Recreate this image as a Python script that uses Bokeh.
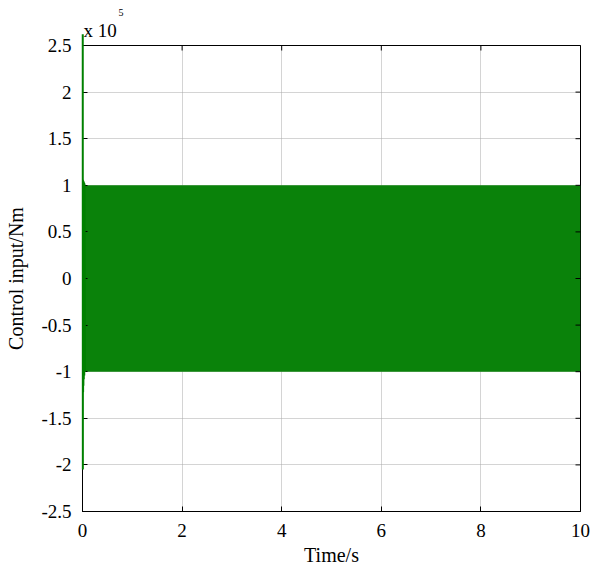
from bokeh.plotting import figure
from bokeh.models import Range1d, FixedTicker, Title
from bokeh.embed import file_html
from bokeh.resources import INLINE
import math

# transient part of the control input (s, N·m)
t_transient = [0.005, 0.005, 0.007, 0.009, 0.012, 0.015, 0.018, 0.022, 0.026, 0.03, 0.035, 0.04, 0.05]
u_transient = [262000, 262000, -205000, 106000, -122000, 105000, -115000, 104000, -108000, 103000, -104000, 102000, -100000]

# chattering band after the transient
band_t = [0.05, 10.0]
band_upper = [100000, 100000]
band_lower = [-100000, -100000]

x_ticks = [0, 2, 4, 6, 8, 10]
y_ticks = [-250000, -200000, -150000, -100000, -50000, 0, 50000, 100000, 150000, 200000, 250000]
y_tick_labels = ["-2.5", "-2", "-1.5", "-1", "-0.5", "0", "0.5", "1", "1.5", "2", "2.5"]
x_max = 10
y_max = 250000

FONT = "Liberation Serif"
GREEN = "#008000"

p = figure(width=595, height=569, output_backend="svg", toolbar_location=None,
           x_range=Range1d(0, 10), y_range=Range1d(-250000, 250000),
           min_border_left=82, min_border_right=15, min_border_top=45, min_border_bottom=58)
p.background_fill_color = "white"
p.border_fill_color = "white"
p.outline_line_color = "black"
p.outline_line_width = 1

# exponent "x 10^5": p.title (outermost) holds the superscript
p.title.text = "5"
p.title.align = "left"
p.title.text_font = FONT
p.title.text_font_size = "10px"
p.title.text_font_style = "normal"
p.title.text_color = "black"
p.title.offset = 36
p.title.standoff = -6
p.add_layout(Title(text="x 10", align="left", text_font=FONT, text_font_size="19px",
                   text_font_style="normal", text_color="black", offset=1, standoff=10), "above")

p.varea(x=band_t, y1=band_lower, y2=band_upper, fill_color="#0a820a")

# mirrored ticks on top and right edges (half of each dash is clipped by the frame)
p.scatter(x=x_ticks, y=[y_max] * len(x_ticks), marker="dash", size=10, angle=math.pi / 2,
          line_color="black", line_width=1)
p.scatter(x=[x_max] * len(y_ticks), y=y_ticks, marker="dash", size=10,
          line_color="black", line_width=1)

p.line(t_transient, u_transient, line_color=GREEN, line_width=2, level="overlay")

for ax in (p.xaxis[0], p.yaxis[0]):
    ax.major_tick_in = 5
    ax.major_tick_out = 0
    ax.minor_tick_line_color = None
    ax.axis_line_color = "black"
    ax.major_label_text_font = FONT
    ax.major_label_text_font_size = "19px"
    ax.major_label_text_color = "black"
    ax.axis_label_text_font = FONT
    ax.axis_label_text_font_size = "20px"
    ax.axis_label_text_font_style = "normal"
    ax.axis_label_text_color = "black"

p.xaxis[0].ticker = FixedTicker(ticks=x_ticks)
p.yaxis[0].ticker = FixedTicker(ticks=y_ticks)
p.yaxis[0].major_label_overrides = {v: s for v, s in zip(y_ticks, y_tick_labels)}
p.xaxis[0].axis_label = "Time/s"
p.yaxis[0].axis_label = "Control input/Nm"
p.xaxis[0].major_label_standoff = 12
p.yaxis[0].major_label_standoff = 11
p.xaxis[0].axis_label_standoff = 4
p.yaxis[0].axis_label_standoff = 11

p.xgrid.ticker = FixedTicker(ticks=x_ticks)
p.ygrid.ticker = FixedTicker(ticks=y_ticks)
for g in (p.xgrid[0], p.ygrid[0]):
    g.grid_line_color = "#a8a8a8"
    g.grid_line_dash = "1 1"
    g.grid_line_width = 1

open("out.html", "w").write(file_html(p, INLINE))
